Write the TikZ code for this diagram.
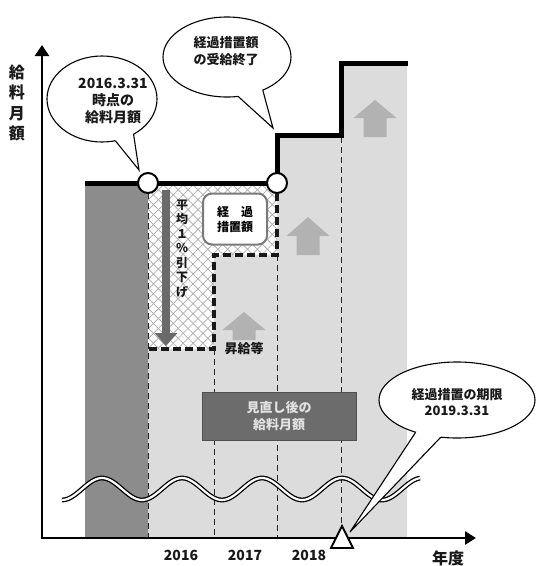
\documentclass[tikz,border=0pt]{standalone}
\usepackage{fontspec}
\newfontfamily\jp{Noto Sans CJK JP}
\usetikzlibrary{patterns.meta,arrows.meta,calc}
\definecolor{darkcol}{HTML}{8C8C8C}
\definecolor{lightcol}{HTML}{DCDCDC}
\definecolor{hatchcol}{HTML}{ABABAB}
\definecolor{upcol}{HTML}{B2B2B2}
\definecolor{downcol}{HTML}{6A6A6A}
\definecolor{boxcol}{HTML}{6C6C6C}
\definecolor{boxline}{HTML}{505050}
\definecolor{boxtext}{HTML}{E2E2E2}
\definecolor{rbox}{HTML}{7A7A7A}
\newcommand{\jpf}[2]{\jp\bfseries\fontsize{#1}{#2}\selectfont}
\tikzset{
 thindash/.style={line width=1pt, dash pattern=on 6pt off 4pt, black!85},
 thickdash/.style={line width=3.5pt, dash pattern=on 8pt off 4pt, black!90},
 bubble/.style={draw=black, line width=1.1pt, fill=white},
 bubbletail/.style={draw=black, line width=1.1pt, line join=miter},
 marker/.style={circle, draw=black, line width=2pt, fill=white, minimum size=20pt, inner sep=0pt},
 lbl/.style={inner sep=0pt, align=center, text=black!90},
 upshape/.style={fill=upcol},
}
\begin{document}
\begin{tikzpicture}[x=1pt,y=-1pt]
\useasboundingbox (0,0) rectangle (536,566);
% regions
\fill[lightcol] (148,183) -- (277,183) -- (277,135) -- (341,135) -- (341,63) -- (407,63) -- (407,538) -- (148,538) -- cycle;
\fill[darkcol] (85,183) rectangle (148,538);
\fill[white] (148,183) -- (277,183) -- (277,255) -- (214,255) -- (214,349) -- (148,349) -- cycle;
\fill[pattern={Lines[angle=45,distance=7pt,line width=0.7pt]}, pattern color=hatchcol] (148,183) -- (277,183) -- (277,255) -- (214,255) -- (214,349) -- (148,349) -- cycle;
\fill[pattern={Lines[angle=-45,distance=7pt,line width=0.7pt]}, pattern color=hatchcol] (148,183) -- (277,183) -- (277,255) -- (214,255) -- (214,349) -- (148,349) -- cycle;
% up arrows
\fill[upshape, shift={(244,330)}] (-21.5,0) -- (0,-18) -- (21.5,0) -- (11.5,0) -- (11.5,10) -- (-11.5,10) -- (-11.5,0) -- cycle;
\fill[upshape, shift={(308,236)}] (-21.5,0) -- (0,-19) -- (21.5,0) -- (11.5,0) -- (11.5,19) -- (-11.5,19) -- (-11.5,0) -- cycle;
\fill[upshape, shift={(375,118)}] (-21.5,0) -- (0,-18) -- (21.5,0) -- (11.5,0) -- (11.5,19) -- (-11.5,19) -- (-11.5,0) -- cycle;
% thin dashed verticals
\draw[thindash] (148,193) -- (148,538);
\draw[thindash] (214,349) -- (214,538);
\draw[thindash] (277,255) -- (277,538);
\draw[thindash] (341,137) -- (341,538);
% thick dashed outline
\draw[thickdash] (277,193) -- (277,255) -- (214,255) -- (214,349) -- (148,349);
% staircase
\draw[line width=5pt] (85,183) -- (277,183) -- (277,135) -- (341,135) -- (341,63) -- (408,63);
\node[marker] (m1) at (148,183) {};
\node[marker] (m2) at (277,183) {};
% down arrow
\coordinate (dtop) at (166,190);
\coordinate (dbot) at (166,346);
\draw[downcol, line width=8pt, -{Triangle[width=22pt,length=13pt]}] (dtop) -- (dbot);
\node[lbl, font=\jpf{12}{14.5}] (cut) at (182,248.5) {平\\均\\１\\％\\引\\下\\げ};
% transitional box
\node[draw=rbox, line width=2pt, rounded corners=9pt, fill=white, minimum width=64pt, minimum height=51pt, inner sep=0pt, align=center, font=\jpf{12}{15}] (keika) at (235,219) {経　過\\措置額};
\node[lbl, font=\jpf{13}{15}] (shokyu) at (244,348) {昇給等};
% revised box
\node[fill=boxcol, draw=boxline, line width=0.8pt, minimum width=154pt, minimum height=48pt, inner sep=0pt, align=center, text=boxtext, font=\jpf{13}{17}] (rev) at (279,416) {見直し後の\\給料月額};
% wave
\draw[line width=1.3pt, double=white, double distance=2.2pt] plot[domain=62:420, samples=120, smooth] (\x,{489-11*cos(4.5*(\x-102))});
% axes
\draw[line width=2.6pt, {Triangle[width=14pt,length=11pt]}-{Triangle[width=13pt,length=11pt]}] (42,45) -- (42,538) -- (476,538);
\draw[line width=1.8pt, fill=white, line join=miter] (342,526) -- (353,548) -- (331,548) -- cycle;
% callout 1
\coordinate (c1) at (102,99);
\coordinate (t1) at (139,170);
\path[bubble] (c1) ellipse [x radius=55, y radius=43];
\fill[white] (t1) -- ($(c1)+(76:55 and 43)$) -- (c1) -- ($(c1)+(55:55 and 43)$) -- cycle;
\draw[bubbletail] ($(c1)+(76:55 and 43)$) -- (t1) -- ($(c1)+(55:55 and 43)$);
\node[lbl, font=\jpf{14}{17}] (txt1) at (113,100.5) {2016.3.31\\時点の\\給料月額};
% callout 2
\coordinate (c2) at (227,57);
\coordinate (t2) at (273,128);
\path[bubble] (c2) ellipse [x radius=64, y radius=40];
\fill[white] (t2) -- ($(c2)+(80:64 and 40)$) -- (c2) -- ($(c2)+(56:64 and 40)$) -- cycle;
\draw[bubbletail] ($(c2)+(80:64 and 40)$) -- (t2) -- ($(c2)+(56:64 and 40)$);
\node[lbl, font=\jpf{13}{17}] (txt2) at (226,51.5) {経過措置額\\の受給終了};
% callout 3
\coordinate (c3) at (457,400);
\coordinate (t3) at (350,532);
\path[bubble] (c3) ellipse [x radius=78, y radius=38];
\fill[white] (t3) -- ($(c3)+(122:78 and 38)$) -- (c3) -- ($(c3)+(102:78 and 38)$) -- cycle;
\draw[bubbletail] ($(c3)+(122:78 and 38)$) -- (t3) -- ($(c3)+(102:78 and 38)$);
\node[lbl, font=\jpf{13}{16}] (txt3) at (457,402.5) {経過措置の期限\\2019.3.31};
% labels
\node[lbl, font=\jpf{16}{20.5}] (ylab) at (17,103) {給\\料\\月\\額};
\node[lbl, font=\jpf{14}{16}] (y2016) at (181,555) {2016};
\node[lbl, font=\jpf{14}{16}] (y2017) at (245,555) {2017};
\node[lbl, font=\jpf{14}{16}] (y2018) at (309,555) {2018};
\node[lbl, font=\jpf{16}{18}] (nendo) at (448,558) {年度};
\end{tikzpicture}
\end{document}
